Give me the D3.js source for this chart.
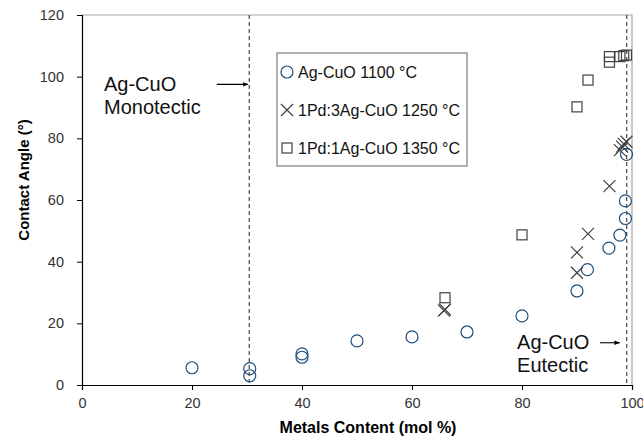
<!DOCTYPE html>
<html>
<head>
<meta charset="utf-8">
<script src="https://cdn.jsdelivr.net/npm/d3@7"></script>
<style>
  body { margin: 0; background: #fff; }
  text { font-family: Arial, "Liberation Sans", sans-serif; }
</style>
</head>
<body>
<div id="chart"></div>
<script>
// Ag-CuO 1100 °C  [metals content, contact angle]
const agCuO = [
  [20, 5.6], [30.5, 5.3], [30.5, 3.0], [40, 10.1], [40, 9.0], [50, 14.3],
  [60, 15.6], [70, 17.2], [80, 22.4], [90, 30.5], [91.9, 37.4], [95.8, 44.4],
  [97.8, 48.6], [98.8, 54], [98.8, 59.7], [99, 74.8]
];
// 1Pd:3Ag-CuO 1250 °C
const pd3Ag = [
  [65.8, 24.1], [66, 24.5], [90, 36.4], [90, 43], [92, 49], [95.9, 64.5],
  [97.8, 76.2], [98.2, 77.3], [98.5, 78.2], [99, 78.9]
];
// 1Pd:1Ag-CuO 1350 °C
const pd1Ag = [
  [66, 28.3], [80, 48.7], [90, 90.2], [92, 98.9], [95.9, 106.5], [95.9, 104.7],
  [97.8, 106.5], [98.5, 106.8], [99, 107]
];
const xTicks = [0, 20, 40, 60, 80, 100];
const yTicks = [0, 20, 40, 60, 80, 100, 120];
const legendLabels = ["Ag-CuO 1100 °C", "1Pd:3Ag-CuO 1250 °C", "1Pd:1Ag-CuO 1350 °C"];
const monotectic = 30.4;
const eutectic = 99.05;

const width = 643, height = 446;
const margins = { top: 15, right: 11, bottom: 61, left: 82 };
const cw = width - margins.left - margins.right;
const ch = height - margins.top - margins.bottom;

const svg = d3.select("#chart").append("svg")
  .attr("width", width)
  .attr("height", height);

const x = d3.scaleLinear().domain([0, 100]).range([0, cw]);
const y = d3.scaleLinear().domain([0, 120]).range([ch, 0]);

const g = svg.append("g")
  .attr("transform", "translate(" + margins.left + "," + margins.top + ")");

// plot area border (top + right in grey)
g.append("path")
  .attr("d", "M0,0H" + cw + "V" + ch)
  .attr("fill", "none")
  .attr("stroke", "#a6a6a6")
  .attr("stroke-width", 1.2);

// axes
const xAxis = g.append("g")
  .attr("transform", "translate(0," + ch + ")")
  .call(d3.axisBottom(x).tickValues(xTicks).tickSize(5).tickPadding(8));
const yAxis = g.append("g")
  .call(d3.axisLeft(y).tickValues(yTicks).tickSize(5).tickPadding(13));
[xAxis, yAxis].forEach(a => {
  a.select(".domain").attr("stroke", "#000").attr("stroke-width", 1.2);
  a.selectAll(".tick line").attr("stroke", "#000");
  a.selectAll(".tick text")
    .attr("fill", "#333")
    .style("font-size", "14.5px")
    .style("font-family", "Arial, 'Liberation Sans', sans-serif");
});

// dashed reference lines
[monotectic, eutectic].forEach(v => {
  g.append("line")
    .attr("x1", x(v)).attr("x2", x(v))
    .attr("y1", 0).attr("y2", ch)
    .attr("stroke", "#222")
    .attr("stroke-width", 1)
    .attr("stroke-dasharray", "4,3");
});

// arrow marker
svg.append("defs").append("marker")
  .attr("id", "arrow")
  .attr("viewBox", "0 0 10 10")
  .attr("refX", 10).attr("refY", 5)
  .attr("markerWidth", 5).attr("markerHeight", 5)
  .attr("orient", "auto")
  .append("path")
  .attr("d", "M0,1L10,5L0,9z")
  .attr("fill", "#000");

// annotations
function note(lines, tx, ty, ax1, ax2, ay) {
  const t = g.append("text")
    .attr("x", x(tx)).attr("y", y(ty))
    .style("font-size", "20px")
    .attr("fill", "#111");
  lines.forEach((s, i) => {
    t.append("tspan").attr("x", x(tx)).attr("dy", i === 0 ? 0 : 23.5).text(s);
  });
  g.append("line")
    .attr("x1", x(ax1)).attr("x2", x(ax2))
    .attr("y1", y(ay)).attr("y2", y(ay))
    .attr("stroke", "#000").attr("stroke-width", 1.1)
    .attr("marker-end", "url(#arrow)");
}
note(["Ag-CuO", "Monotectic"], 4, 95.5, 24.5, 30.2, 97.5);
note(["Ag-CuO", "Eutectic"], 79.1, 11.7, 94.2, 97.8, 13.7);

// markers
const blue = "#1f4e79", grey = "#404040";
function drawCircle(sel, cx, cy) {
  sel.append("circle").attr("cx", cx).attr("cy", cy).attr("r", 6)
    .attr("fill", "none").attr("stroke", blue).attr("stroke-width", 1.2);
}
function drawCross(sel, cx, cy) {
  const s = 6;
  sel.append("path")
    .attr("d", "M" + (cx - s) + "," + (cy - s) + "L" + (cx + s) + "," + (cy + s) +
      "M" + (cx - s) + "," + (cy + s) + "L" + (cx + s) + "," + (cy - s))
    .attr("stroke", grey).attr("stroke-width", 1.2).attr("fill", "none");
}
function drawSquare(sel, cx, cy) {
  sel.append("rect").attr("x", cx - 5).attr("y", cy - 5)
    .attr("width", 10).attr("height", 10)
    .attr("fill", "none").attr("stroke", grey).attr("stroke-width", 1.2);
}

const pts = g.append("g").attr("id", "points");
pd1Ag.forEach(d => drawSquare(pts, x(d[0]), y(d[1])));
pd3Ag.forEach(d => drawCross(pts, x(d[0]), y(d[1])));
agCuO.forEach(d => drawCircle(pts, x(d[0]), y(d[1])));

// legend
const legend = svg.append("g").attr("id", "legend");
legend.append("rect")
  .attr("x", 277).attr("y", 53)
  .attr("width", 190).attr("height", 113)
  .attr("fill", "#fff").attr("stroke", "#7f7f7f").attr("stroke-width", 1.2);
const drawers = [drawCircle, drawCross, drawSquare];
legendLabels.forEach((lab, i) => {
  const ly = 72 + i * 38;
  drawers[i](legend, 287, ly);
  legend.append("text")
    .attr("x", 298).attr("y", ly)
    .attr("dy", "0.36em")
    .style("font-size", "16px")
    .attr("fill", "#111")
    .text(lab);
});

// axis titles
svg.append("text")
  .attr("x", margins.left + x(52)).attr("y", 433)
  .attr("text-anchor", "middle")
  .style("font-size", "16px").style("font-weight", "bold")
  .text("Metals Content (mol %)");
svg.append("text")
  .attr("transform", "translate(29," + 180 + ") rotate(-90)")
  .attr("text-anchor", "middle")
  .style("font-size", "15px").style("font-weight", "bold")
  .text("Contact Angle (°)");
</script>
</body>
</html>
